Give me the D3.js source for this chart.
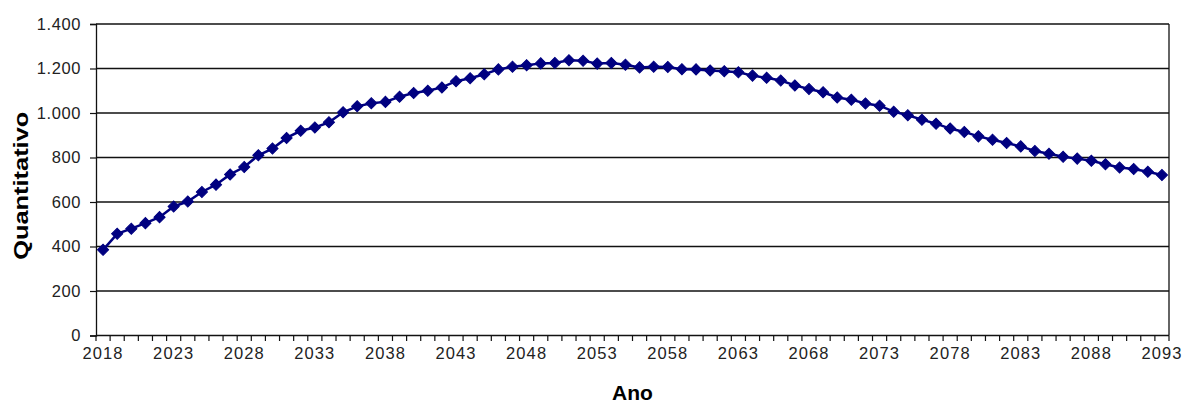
<!DOCTYPE html>
<html>
<head>
<meta charset="utf-8">
<script src="https://cdn.jsdelivr.net/npm/d3@7"></script>
<style>
  html, body { margin: 0; padding: 0; background: #fff; }
  svg { display: block; font-family: Arial, "Liberation Sans", sans-serif; }
</style>
</head>
<body>
<div id="chart"></div>
<script>
  // years on the category axis
  const years = d3.range(2018, 2094);
  // quantitativo per year
  const values = [
    385, 457, 480, 505, 532, 580, 602, 645, 678, 724,
    757, 810, 840, 888, 920, 935, 958, 1003, 1030, 1044,
    1050, 1073, 1090, 1100, 1115, 1143, 1156, 1174, 1196, 1208,
    1215, 1223, 1225, 1237, 1235, 1222, 1225, 1217, 1205, 1208,
    1207, 1197, 1196, 1191, 1188, 1183, 1168, 1158, 1146, 1124,
    1108, 1093, 1070, 1060, 1043, 1033, 1006, 990, 970, 952,
    930, 915, 895, 880, 865, 850, 829, 817, 803, 795,
    785, 770, 755, 748, 736, 721
  ];
  const xTickLabels = [2018, 2023, 2028, 2033, 2038, 2043, 2048, 2053, 2058, 2063, 2068, 2073, 2078, 2083, 2088, 2093];
  const yTicks = [0, 200, 400, 600, 800, 1000, 1200, 1400];

  const width = 1182, height = 405;
  const plot = { left: 96, right: 1169, top: 24, bottom: 335.5 };
  const lineColor = '#000080';

  const ptBR = d3.formatLocale({ decimal: ',', thousands: '.', grouping: [3], currency: ['R$', ''] });
  const fmt = ptBR.format(',d');

  const data = years.map((y, i) => ({ year: y, value: values[i] }));

  const svg = d3.select('#chart')
    .append('svg')
    .attr('width', width)
    .attr('height', height);

  const x = d3.scaleBand()
    .domain(years)
    .range([plot.left, plot.right]);

  const y = d3.scaleLinear()
    .domain([0, 1400])
    .range([plot.bottom, plot.top]);

  const cx = d => x(d) + x.bandwidth() / 2;

  // gridlines
  svg.append('g')
    .selectAll('line')
    .data(yTicks.filter(d => d > 0))
    .join('line')
    .attr('x1', plot.left)
    .attr('x2', plot.right)
    .attr('y1', d => y(d))
    .attr('y2', d => y(d))
    .attr('stroke', '#111')
    .attr('stroke-width', 1.3);

  // right border of plot area
  svg.append('line')
    .attr('x1', plot.right).attr('x2', plot.right)
    .attr('y1', y(1400)).attr('y2', y(0))
    .attr('stroke', '#111')
    .attr('stroke-width', 1.3);

  // y axis
  const yAxis = svg.append('g')
    .attr('transform', `translate(${plot.left},0)`)
    .call(d3.axisLeft(y).tickValues(yTicks).tickFormat(fmt).tickSize(6).tickPadding(9));
  yAxis.select('.domain').attr('stroke', '#111').attr('stroke-width', 1.3);
  yAxis.selectAll('.tick line').attr('stroke', '#111').attr('stroke-width', 1.2);
  yAxis.selectAll('text')
    .attr('font-size', 16.5)
    .attr('fill', '#222')
    .attr('font-family', 'Arial, "Liberation Sans", sans-serif')
    .style('letter-spacing', '0.6px');

  // x axis: labels every 5 years at category centres
  const xAxis = svg.append('g')
    .attr('transform', `translate(0,${plot.bottom})`)
    .call(d3.axisBottom(x).tickValues(xTickLabels).tickSize(0).tickPadding(12));
  xAxis.select('.domain').remove();
  xAxis.selectAll('text')
    .attr('font-size', 16.5)
    .attr('fill', '#222')
    .attr('font-family', 'Arial, "Liberation Sans", sans-serif')
    .style('letter-spacing', '1.1px');

  // x tick marks at category boundaries
  svg.append('g')
    .selectAll('line')
    .data(years.map(d => x(d)).concat([x(years[years.length - 1]) + x.bandwidth()]))
    .join('line')
    .attr('x1', d => d).attr('x2', d => d)
    .attr('y1', plot.bottom).attr('y2', plot.bottom + 5.5)
    .attr('stroke', '#111')
    .attr('stroke-width', 1.2);

  svg.append('line')
    .attr('x1', plot.left).attr('x2', plot.right)
    .attr('y1', plot.bottom).attr('y2', plot.bottom)
    .attr('stroke', '#111')
    .attr('stroke-width', 1.3);

  // series line
  const line = d3.line()
    .x(d => cx(d.year))
    .y(d => y(d.value));

  svg.append('path')
    .datum(data)
    .attr('fill', 'none')
    .attr('stroke', lineColor)
    .attr('stroke-width', 2.5)
    .attr('d', line);

  // diamond markers
  const diamond = d3.symbol().type(d3.symbolSquare).size(62);
  svg.append('g')
    .selectAll('path')
    .data(data)
    .join('path')
    .attr('d', diamond)
    .attr('transform', d => `translate(${cx(d.year)},${y(d.value)}) rotate(45)`)
    .attr('fill', lineColor)
    .attr('stroke', lineColor)
    .attr('stroke-width', 1);

  // axis titles
  svg.append('text')
    .attr('x', (plot.left + plot.right) / 2)
    .attr('y', 400)
    .attr('text-anchor', 'middle')
    .attr('font-size', 21)
    .attr('font-weight', 'bold')
    .attr('fill', '#000')
    .text('Ano');

  svg.append('text')
    .attr('transform', `translate(28,${(plot.top + plot.bottom) / 2 + 6}) rotate(-90)`)
    .attr('text-anchor', 'middle')
    .attr('font-size', 21)
    .attr('font-weight', 'bold')
    .attr('fill', '#000')
    .attr('textLength', 148)
    .attr('lengthAdjust', 'spacingAndGlyphs')
    .text('Quantitativo');
</script>
</body>
</html>
